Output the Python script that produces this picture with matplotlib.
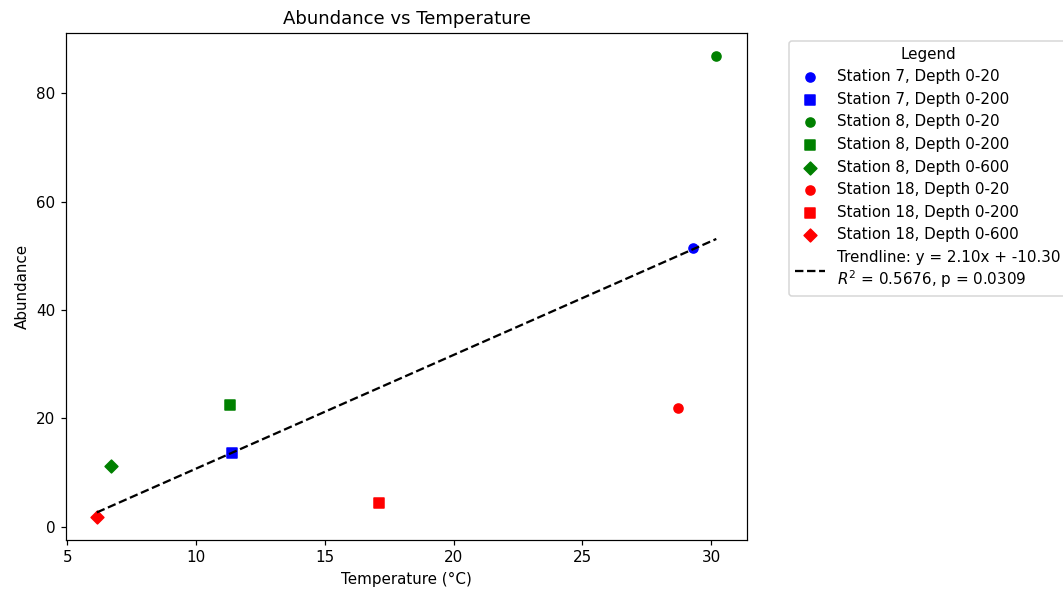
import numpy as np
import matplotlib.pyplot as plt

# Измерения по станциям и глубинам
labels = [
    "Station 7, Depth 0-20",
    "Station 7, Depth 0-200",
    "Station 8, Depth 0-20",
    "Station 8, Depth 0-200",
    "Station 8, Depth 0-600",
    "Station 18, Depth 0-20",
    "Station 18, Depth 0-200",
    "Station 18, Depth 0-600",
]
temperature = [29.3, 11.4, 30.2, 11.3, 6.7, 28.7, 17.1, 6.15]
abundance = [51.5, 13.6, 86.9, 22.5, 11.2, 21.9, 4.4, 1.8]
colors = ["blue", "blue", "green", "green", "green", "red", "red", "red"]
markers = ["o", "s", "o", "s", "D", "o", "s", "D"]

# Параметры линии тренда
slope = 2.10
intercept = -10.30
r_squared = 0.5676
p_value = 0.0309

dpi = 109
fig, ax = plt.subplots(figsize=(1063 / dpi, 590 / dpi), dpi=dpi)
fig.subplots_adjust(left=0.062, right=0.703, top=0.944, bottom=0.085)

for t, a, c, m, lab in zip(temperature, abundance, colors, markers, labels):
    ax.scatter(t, a, color=c, marker=m, label=lab)

# Линия тренда
x_line = np.linspace(min(temperature), max(temperature), 100)
ax.plot(
    x_line,
    slope * x_line + intercept,
    "k--",
    label=f"Trendline: y = {slope:.2f}x + {intercept:.2f}\n$R^2$ = {r_squared:.4f}, p = {p_value:.4f}",
)

ax.set_xlabel("Temperature (°C)")
ax.set_ylabel("Abundance")
ax.set_title("Abundance vs Temperature")
ax.legend(title="Legend", bbox_to_anchor=(1.05, 1), loc="upper left")

plt.savefig("out.png", dpi=dpi)
plt.close()
